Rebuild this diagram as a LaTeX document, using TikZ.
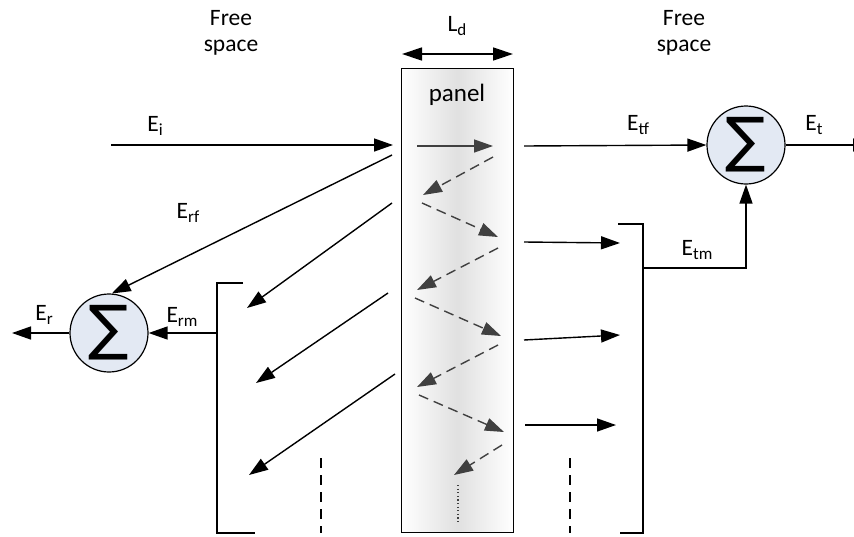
\documentclass[tikz,border=0pt]{standalone}
\usepackage{fontspec}
\setmainfont{Carlito}
\newfontfamily\dvs{DejaVu Sans}
\usetikzlibrary{arrows.meta}
\definecolor{sumblue}{HTML}{E3E9F3}
\definecolor{innergray}{HTML}{404040}
\newcommand\sbs[1]{\raisebox{-0.3ex}{\fontsize{17}{17}\selectfont #1}}
\begin{document}
\begin{tikzpicture}[x=1pt,y=-1pt,
  lbl/.style={font=\fontsize{23.5}{26}\selectfont, inner sep=0pt, align=center},
  ln/.style={line width=1.4pt},
  arr/.style={ln, -{Triangle[length=19pt,width=13pt]}},
  inarr/.style={line width=1.4pt, draw=innergray, -{Triangle[length=19pt,width=13pt]}},
  indash/.style={inarr, dash pattern=on 10pt off 6pt},
  vdash/.style={ln, dash pattern=on 10pt off 7pt},
  sumnode/.style={circle, draw, line width=1.2pt, fill=sumblue, minimum size=78pt, inner sep=0pt, font=\dvs\fontsize{60}{60}\selectfont},
  panelbox/.style={draw, line width=1.3pt, left color=white, right color=white, middle color=black!12, minimum width=112pt, minimum height=464pt, inner sep=0pt}
]
\useasboundingbox (0,0) rectangle (854,536);

% panel
\node[panelbox] (panel) at (457.5,300.5) {};
\node[lbl, font=\fontsize{25}{26}\selectfont] (paneltxt) at (457,95) {panel};

% top labels
\node[lbl] (fsl) at (231,33) {Free\\space};
\node[lbl] (fsr) at (684,33) {Free\\space};
\node[lbl] (ld) at (457,26) {L\sbs{d}};
\coordinate (ldl) at (402,54);
\coordinate (ldr) at (513,54);
\draw[ln, {Triangle[length=20pt,width=13pt]}-{Triangle[length=20pt,width=13pt]}] (ldl) -- (ldr);

% sums
\node[sumnode] (sumL) at (109,333) {∑};
\node[sumnode] (sumR) at (746,145) {∑};

% incident
\coordinate (ei0) at (111,145);
\coordinate (ei1) at (393,145);
\draw[arr] (ei0) -- (ei1);
\node[lbl] (Ei) at (155,126) {E\sbs{i}};

% front reflection
\coordinate (erf0) at (392,155);
\draw[arr] (erf0) -- (sumL.86);
\node[lbl] (Erf) at (188,213) {E\sbs{rf}};

% left reflected arrows
\coordinate (l1a) at (392,203); \coordinate (l1b) at (247,308);
\coordinate (l2a) at (388,293); \coordinate (l2b) at (256,383);
\coordinate (l3a) at (395,374); \coordinate (l3b) at (249,475);
\draw[arr] (l1a) -- (l1b);
\draw[arr] (l2a) -- (l2b);
\draw[arr] (l3a) -- (l3b);

% left bracket
\coordinate (lbt) at (243,283);
\coordinate (lbb) at (255,533);
\coordinate (lbj) at (217,333);
\draw[ln] (lbt) -- (217,283) -- (217,533) -- (lbb);
\draw[arr] (lbj) -- (sumL.east);
\node[lbl] (Erm) at (182,317) {E\sbs{rm}};
\coordinate (erout) at (12,333);
\draw[arr] (sumL.west) -- (erout);
\node[lbl] (Er) at (44,315) {E\sbs{r}};

% left dashed
\coordinate (ld0) at (321,458); \coordinate (ld1) at (321,533);
\draw[vdash] (ld0) -- (ld1);

% transmitted front
\coordinate (etf0) at (524,146);
\draw[arr] (etf0) -- (sumR.west);
\node[lbl] (Etf) at (638,125) {E\sbs{tf}};
\coordinate (etout) at (872,145);
\draw[arr] (sumR.east) -- (etout);
\node[lbl] (Et) at (814,125) {E\sbs{t}};

% right transmitted arrows
\coordinate (r1a) at (524,242); \coordinate (r1b) at (620,243);
\coordinate (r2a) at (524,340); \coordinate (r2b) at (620,335);
\coordinate (r3a) at (525,425); \coordinate (r3b) at (616,425);
\draw[arr] (r1a) -- (r1b);
\draw[arr] (r2a) -- (r2b);
\draw[arr] (r3a) -- (r3b);

% right bracket
\coordinate (rbt) at (618,224);
\coordinate (rbb) at (620,533);
\coordinate (rbj) at (643,268);
\draw[ln] (rbt) -- (643,224) -- (643,533) -- (rbb);
\draw[arr] (rbj) -| (sumR.south);
\node[lbl] (Etm) at (697,250) {E\sbs{tm}};

% right dashed
\coordinate (rd0) at (570,458); \coordinate (rd1) at (570,533);
\draw[vdash] (rd0) -- (rd1);

% inner bounces
\coordinate (p1a) at (417,146); \coordinate (p1b) at (493,146);
\coordinate (p2a) at (493,157); \coordinate (p2b) at (423,195);
\coordinate (p3a) at (422,203); \coordinate (p3b) at (498,237);
\coordinate (p4a) at (498,248); \coordinate (p4b) at (417,290);
\coordinate (p5a) at (415,298); \coordinate (p5b) at (501,336);
\coordinate (p6a) at (498,345); \coordinate (p6b) at (417,387);
\coordinate (p7a) at (419,395); \coordinate (p7b) at (504,432);
\coordinate (p8a) at (502,445); \coordinate (p8b) at (454,475);
\draw[inarr] (p1a) -- (p1b);
\draw[indash] (p2a) -- (p2b);
\draw[indash] (p3a) -- (p3b);
\draw[indash] (p4a) -- (p4b);
\draw[indash] (p5a) -- (p5b);
\draw[indash] (p6a) -- (p6b);
\draw[indash] (p7a) -- (p7b);
\draw[indash] (p8a) -- (p8b);
\coordinate (dt0) at (458,485); \coordinate (dt1) at (458,523);
\draw[innergray, line width=1.2pt, dash pattern=on 1.2pt off 2.4pt] (dt0) -- (dt1);
\end{tikzpicture}
\end{document}
